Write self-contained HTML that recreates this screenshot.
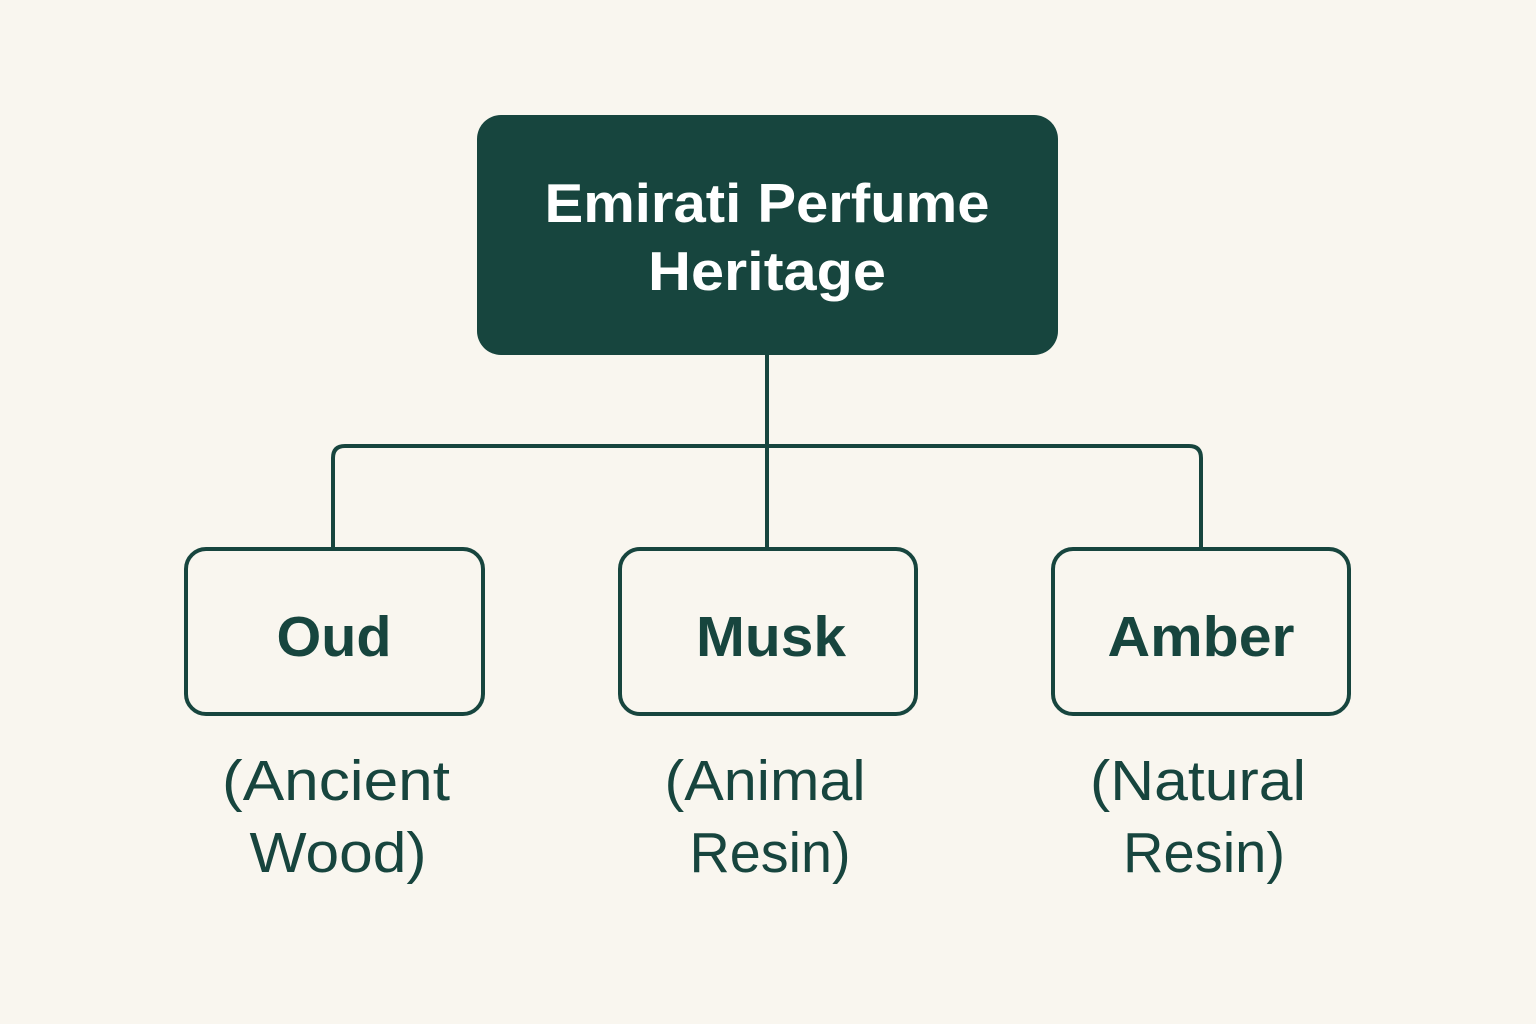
<!DOCTYPE html>
<html><head><meta charset="utf-8"><style>
html,body{margin:0;padding:0;background:#f9f6ef;}
svg{display:block}
</style></head><body>
<svg width="1536" height="1024" viewBox="0 0 1536 1024" xmlns="http://www.w3.org/2000/svg">
<rect width="1536" height="1024" fill="#f9f6ef"/>
<rect x="477" y="115" width="581" height="240" rx="24" fill="#17453e"/>
<g font-family="Liberation Sans, sans-serif" font-weight="bold" fill="#ffffff" font-size="55" text-anchor="middle">
<text x="767" y="222" textLength="445" lengthAdjust="spacingAndGlyphs">Emirati Perfume</text>
<text x="767" y="290" textLength="238" lengthAdjust="spacingAndGlyphs">Heritage</text>
</g>
<g fill="none" stroke="#17453e" stroke-width="4">
<line x1="767" y1="355" x2="767" y2="549"/>
<path d="M333 549 V458 Q333 446 345 446 H1189 Q1201 446 1201 458 V549"/>
<rect x="186" y="549" width="297" height="165" rx="20"/>
<rect x="620" y="549" width="296" height="165" rx="20"/>
<rect x="1053" y="549" width="296" height="165" rx="20"/>
</g>
<g font-family="Liberation Sans, sans-serif" fill="#17453e" text-anchor="middle">
<g font-weight="bold" font-size="57">
<text x="334" y="656" textLength="115" lengthAdjust="spacingAndGlyphs">Oud</text>
<text x="771" y="656" textLength="150" lengthAdjust="spacingAndGlyphs">Musk</text>
<text x="1201" y="656" textLength="187" lengthAdjust="spacingAndGlyphs">Amber</text>
</g>
<g font-size="57">
<text x="336" y="800" textLength="228" lengthAdjust="spacingAndGlyphs">(Ancient</text>
<text x="338" y="872" textLength="177" lengthAdjust="spacingAndGlyphs">Wood)</text>
<text x="765" y="800" textLength="201" lengthAdjust="spacingAndGlyphs">(Animal</text>
<text x="770" y="872" textLength="161" lengthAdjust="spacingAndGlyphs">Resin)</text>
<text x="1198" y="800" textLength="216" lengthAdjust="spacingAndGlyphs">(Natural</text>
<text x="1204" y="872" textLength="162" lengthAdjust="spacingAndGlyphs">Resin)</text>
</g>
</g>
</svg>
</body></html>
